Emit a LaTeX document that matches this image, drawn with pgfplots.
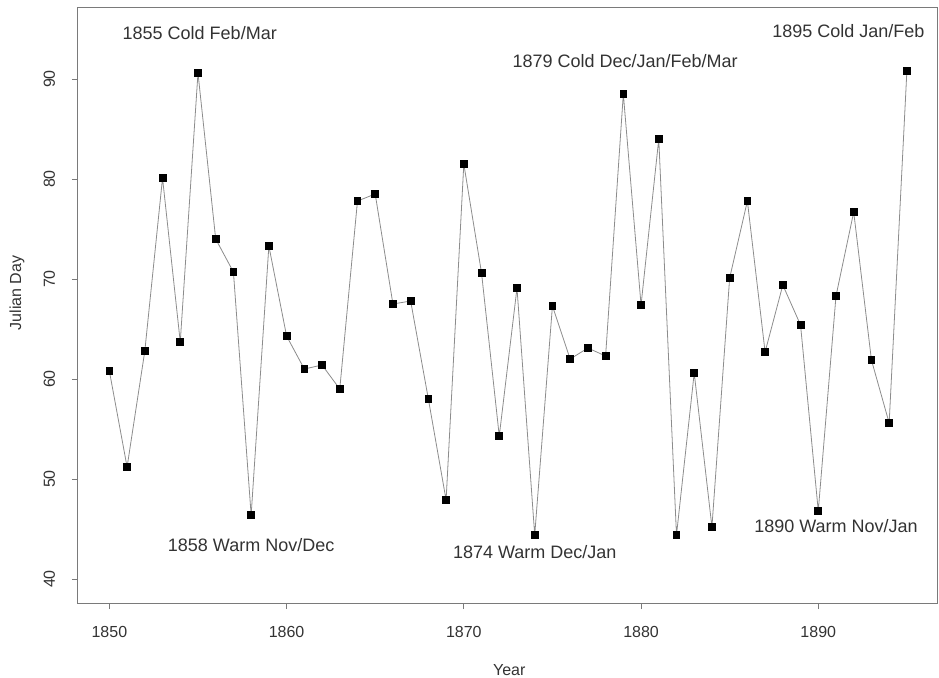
\documentclass[border=0pt]{standalone}
\usepackage{pgfplots}
\pgfplotsset{compat=1.18}
\usepackage{fontspec}
\setmainfont{Liberation Sans}
\definecolor{txt}{HTML}{333333}
\definecolor{axc}{HTML}{7A7A7A}
\definecolor{lnc}{HTML}{8C8C8C}
\begin{document}
\begin{tikzpicture}
\begin{axis}[
  scale only axis,
  width=429.5pt, height=298pt,
  xmin=1848.23, xmax=1896.7,
  ymin=37.6, ymax=97.2,
  xtick={1850,1860,1870,1880,1890},
  ytick={40,50,60,70,80,90},
  xtick pos=bottom, ytick pos=left,
  tick align=outside,
  major tick length=3pt,
  axis line style={axc, line width=0.5pt},
  tick style={axc, line width=0.5pt},
  /pgf/number format/assume math mode=true,
  /pgf/number format/1000 sep={},
  tick label style={font=\fontsize{8}{9}\selectfont, text=txt},
  yticklabel style={rotate=90, anchor=south, yshift=5pt},
  xticklabel style={yshift=-5pt},
  xlabel={Year}, ylabel={Julian Day},
  label style={font=\fontsize{8}{9}\selectfont, text=txt},
  xlabel style={at={(axis description cs:0.502,0)}, anchor=center, yshift=-33.5pt},
  ylabel style={at={(axis description cs:-0.071,0.52)}, anchor=center},
  clip=false,
]
\addplot[lnc, line width=0.4pt, mark=square*, mark size=1.7pt,
  mark options={fill=black, draw=black}] coordinates {
(1850,60.8) (1851,51.2) (1852,62.8) (1853,80.1) (1854,63.7)
(1855,90.6) (1856,74.0) (1857,70.7) (1858,46.4) (1859,73.3)
(1860,64.3) (1861,61.0) (1862,61.4) (1863,59.0) (1864,77.8)
(1865,78.5) (1866,67.5) (1867,67.8) (1868,58.0) (1869,47.9)
(1870,81.5) (1871,70.6) (1872,54.3) (1873,69.1) (1874,44.4)
(1875,67.3) (1876,62.0) (1877,63.1) (1878,62.3) (1879,88.5)
(1880,67.4) (1881,84.0) (1882,44.4) (1883,60.6) (1884,45.2)
(1885,70.1) (1886,77.8) (1887,62.7) (1888,69.4) (1889,65.4)
(1890,46.8) (1891,68.3) (1892,76.7) (1893,61.9) (1894,55.6)
(1895,90.8)
};
\begin{scope}[every node/.style={font=\fontsize{9}{10}\selectfont, text=txt, anchor=center}]
\node at (axis cs:1855.1,94.6) {1855 Cold Feb/Mar};
\node at (axis cs:1879.1,91.8) {1879 Cold Dec/Jan/Feb/Mar};
\node at (axis cs:1891.7,94.8) {1895 Cold Jan/Feb};
\node at (axis cs:1858.0,43.4) {1858 Warm Nov/Dec};
\node at (axis cs:1874.0,42.7) {1874 Warm Dec/Jan};
\node at (axis cs:1891.0,45.3) {1890 Warm Nov/Jan};
\end{scope}
\end{axis}
\pgfresetboundingbox
\path[use as bounding box] ([xshift=-39pt,yshift=-37pt]current axis.south west) rectangle ([xshift=1pt,yshift=3.5pt]current axis.north east);
\end{tikzpicture}
\end{document}
